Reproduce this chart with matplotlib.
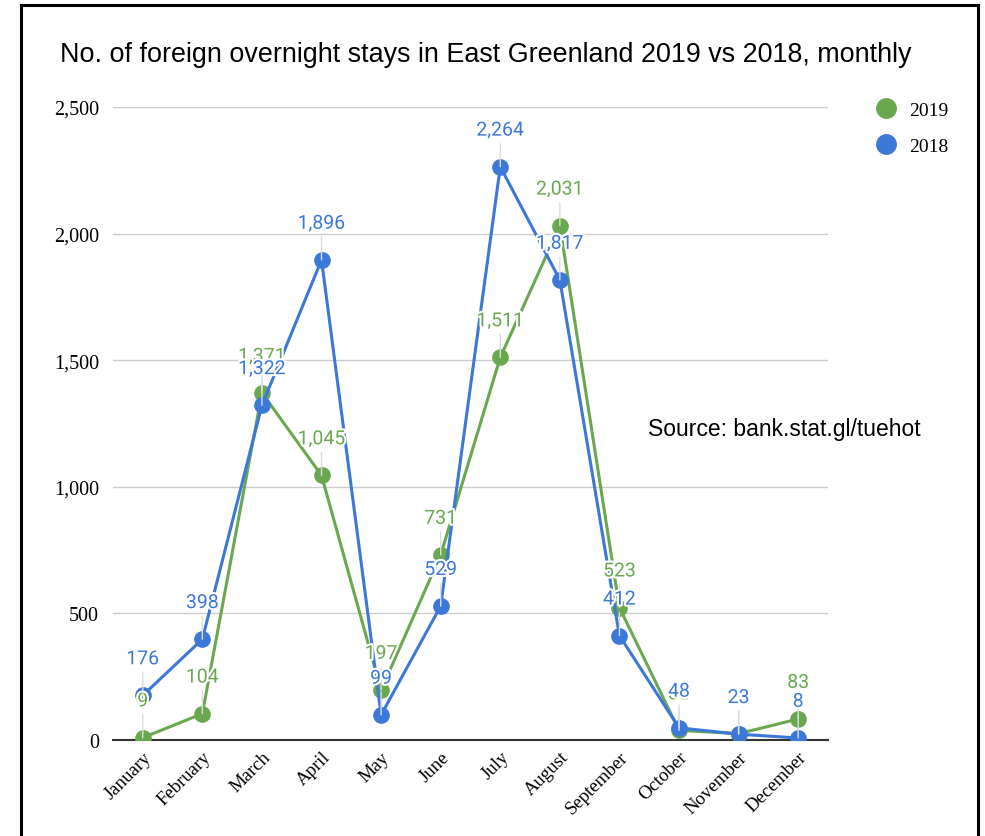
import matplotlib.pyplot as plt
import matplotlib.patheffects as pe
from matplotlib.lines import Line2D
from matplotlib.patches import Rectangle

months = ['January', 'February', 'March', 'April', 'May', 'June', 'July',
          'August', 'September', 'October', 'November', 'December']
stays_2019 = [9, 104, 1371, 1045, 197, 731, 1511, 2031, 523, 38, 25, 83]
stays_2018 = [176, 398, 1322, 1896, 99, 529, 2264, 1817, 412, 48, 23, 8]
yticks = [0, 500, 1000, 1500, 2000, 2500]

green = '#6aa84f'
blue = '#3c78d8'

fig = plt.figure(figsize=(9.85, 8.37), dpi=100)
ax = fig.add_axes([0.1147, 0.1147, 0.7259, 0.7563])

x = list(range(len(months)))


def draw_series(vals, color, z):
    ax.plot(x, vals, color=color, lw=2.2, marker='o', markersize=11,
            zorder=z, solid_capstyle='round')
    for i, v in zip(x, vals):
        ax.annotate(f'{v:,}', xy=(i, v), xytext=(0, 26), textcoords='offset points',
                    ha='center', va='center', color=color, fontsize=14,
                    family='Roboto', zorder=z + 5,
                    path_effects=[pe.withStroke(linewidth=3, foreground='white')],
                    arrowprops=dict(arrowstyle='-', color='#dcdcdc', lw=1,
                                    shrinkA=1, shrinkB=0))


draw_series(stays_2019, green, 3)
draw_series(stays_2018, blue, 4)

ax.set_xlim(-0.5, 11.5)
ax.set_ylim(0, 2500)
ax.set_yticks(yticks)
ax.set_yticklabels([f'{t:,}' for t in yticks], family='Liberation Serif', fontsize=14.5)
ax.set_xticks(x)
ax.set_xticklabels(months, rotation=45, ha='right', rotation_mode='anchor',
                   family='Liberation Serif', fontsize=13.5)
ax.tick_params(axis='y', length=0, pad=10)
ax.tick_params(axis='x', length=0, pad=6)
ax.grid(axis='y', color='#cccccc', lw=1)
ax.set_axisbelow(True)
for s in ['top', 'right', 'left']:
    ax.spines[s].set_visible(False)
ax.spines['bottom'].set_color('#333333')
ax.spines['bottom'].set_linewidth(1.5)
ax.spines['bottom'].set_zorder(2)

fig.text(60 / 985, 1 - 55 / 837, 'No. of foreign overnight stays in East Greenland 2019 vs 2018, monthly',
         family='Liberation Sans', fontsize=19.4, va='center', ha='left')
fig.text(648 / 985, 1 - 430 / 837, 'Source: bank.stat.gl/tuehot',
         family='Liberation Sans', fontsize=16.5, va='center', ha='left')

handles = [Line2D([], [], ls='none', marker='o', markersize=14, color=green),
           Line2D([], [], ls='none', marker='o', markersize=14, color=blue)]
fig.legend(handles, ['2019', '2018'], loc='upper left',
           bbox_to_anchor=(857 / 985, 1 - 85 / 837), frameon=False,
           prop={'family': 'Liberation Serif', 'size': 14},
           handletextpad=0.6, labelspacing=0.95, handlelength=1.2)

fig.add_artist(Rectangle((21 / 985, -0.05), (978 - 21) / 985, 1.05 - 6 / 837,
                         transform=fig.transFigure, fill=False, ec='black', lw=2.2))

fig.savefig('out.png', dpi=100)
